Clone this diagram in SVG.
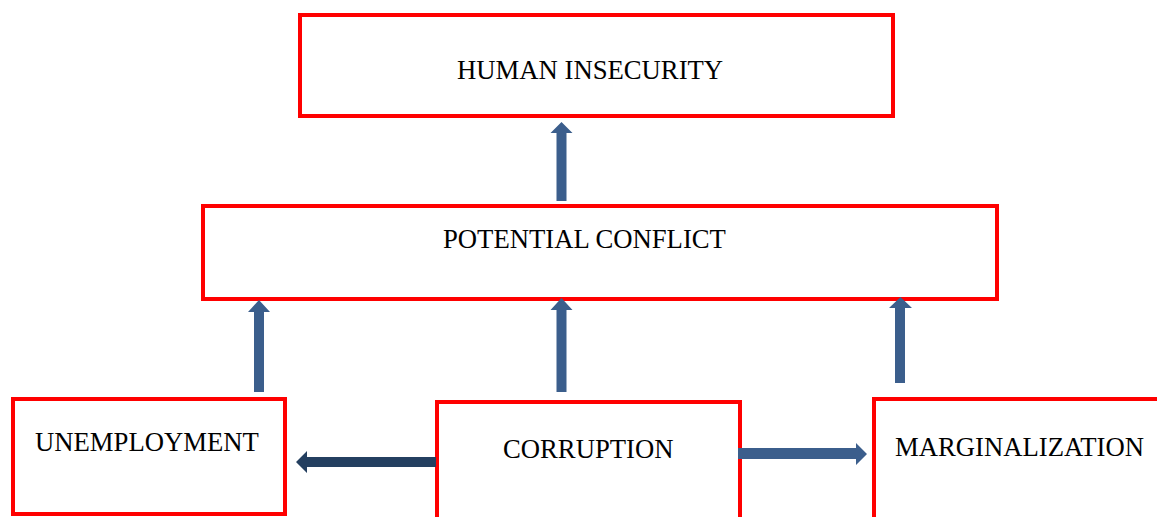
<svg xmlns="http://www.w3.org/2000/svg" width="1157" height="517" viewBox="0 0 1157 517">
<style>
.box{fill:#fff;stroke:#ff0000;stroke-width:4}
.lbl{font-family:"Liberation Serif","Times New Roman",serif;font-size:26.7px;fill:#000}
.arr{fill:#3b5e8c}
.arrd{fill:#243f60}
</style>
<rect width="1157" height="517" fill="#fff"/>
<g id="human-insecurity"><rect class="box" x="300" y="15" width="593" height="101"/><text class="lbl" x="457" y="79">HUMAN INSECURITY</text></g>
<g id="potential-conflict"><rect class="box" x="203" y="206" width="794" height="93"/><text class="lbl" x="443" y="248">POTENTIAL CONFLICT</text></g>
<g id="unemployment"><rect class="box" x="13" y="399" width="272" height="115"/><text class="lbl" x="35" y="451">UNEMPLOYMENT</text></g>
<g id="corruption"><rect class="box" x="437" y="402" width="303" height="140"/><text class="lbl" x="503" y="458">CORRUPTION</text></g>
<g id="marginalization"><rect class="box" x="874" y="399" width="320" height="140"/><text class="lbl" x="895" y="456">MARGINALIZATION</text></g>
<g id="connectors">
<polygon class="arr" points="556.5,201 566.5,201 566.5,133 572.5,133 561.5,122 550.5,133 556.5,133"/>
<polygon class="arr" points="254,392 264,392 264,312 270,312 259,300 248,312 254,312"/>
<polygon class="arr" points="556.5,392 566.5,392 566.5,310 572.5,310 561.5,298 550.5,310 556.5,310"/>
<polygon class="arr" points="895,383 905,383 905,308 912,308 900.5,297 889,308 895,308"/>
<polygon class="arrd" points="436,457 436,467 307,467 307,473 296,462 307,451 307,457"/>
<polygon class="arr" points="738,448 738,459 856,459 856,465 867,454 856,443 856,448"/>
</g>
</svg>
